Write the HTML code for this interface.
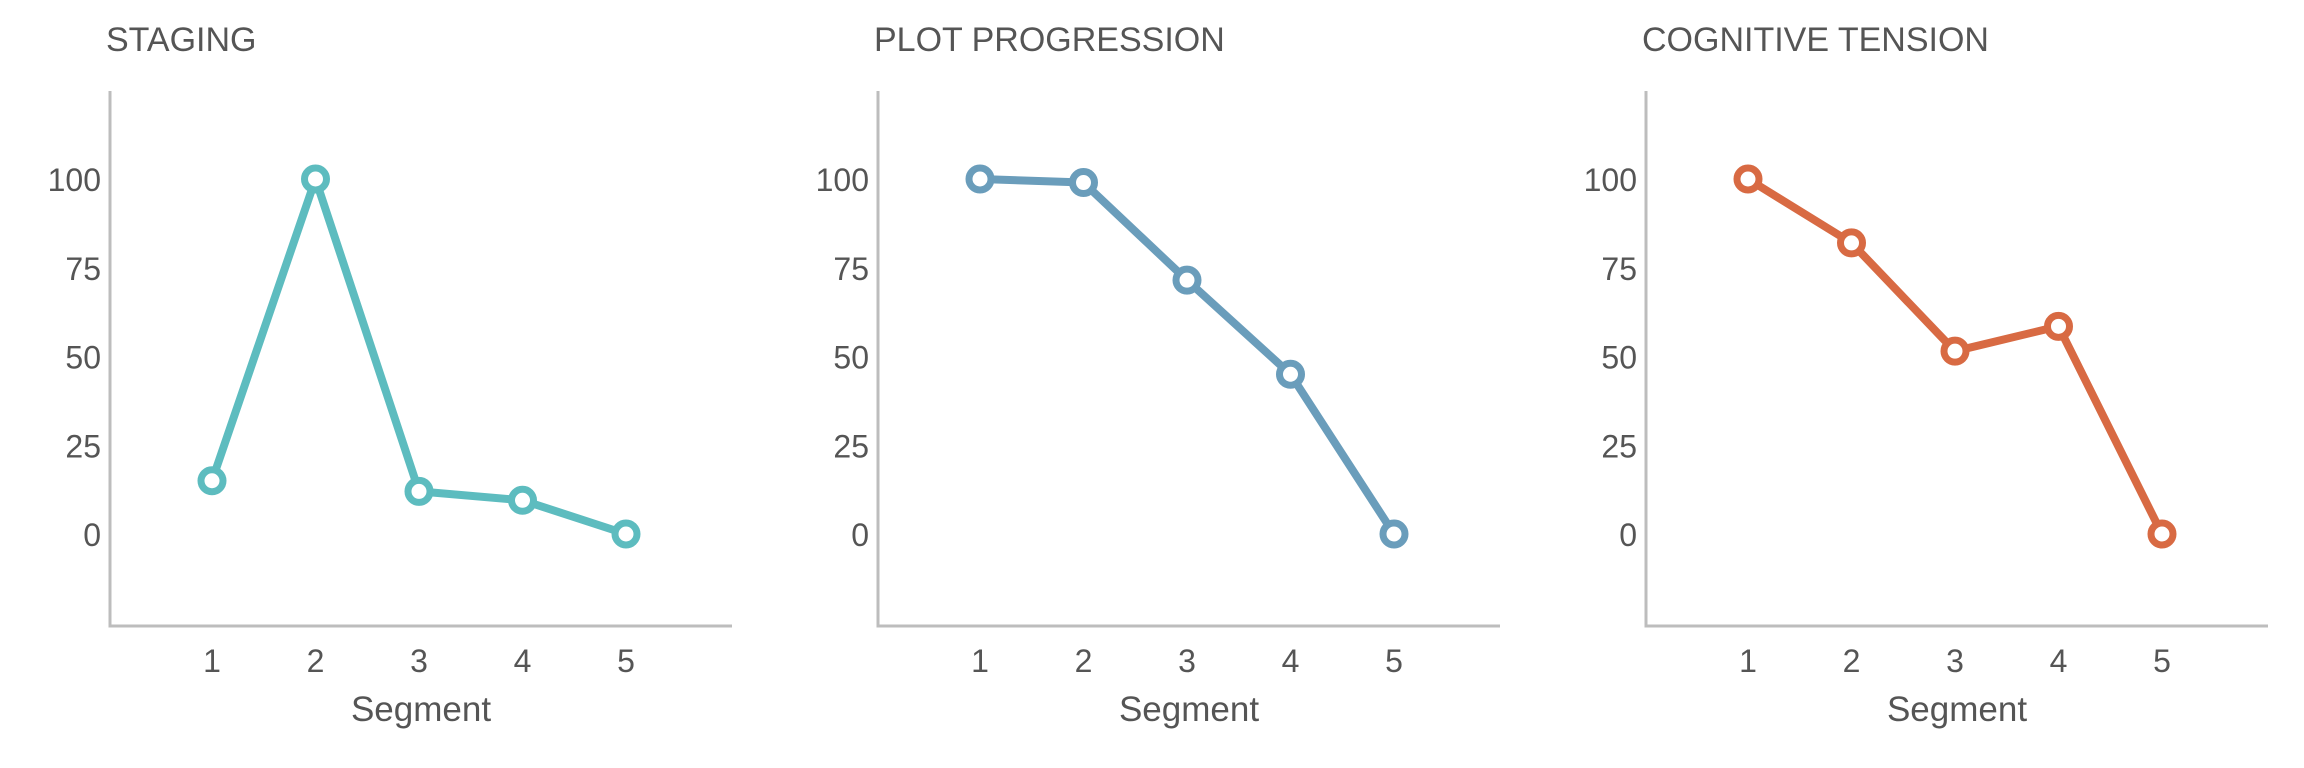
<!DOCTYPE html>
<html><head><meta charset="utf-8"><style>
html,body{margin:0;padding:0;background:#fff;}
svg{display:block;font-family:"Liberation Sans",sans-serif;}
</style></head><body>
<svg id="chart" width="2304" height="768" viewBox="0 0 2304 768" xmlns="http://www.w3.org/2000/svg"></svg>
<script>
const titles = ["STAGING", "PLOT PROGRESSION", "COGNITIVE TENSION"];
const segments = [1, 2, 3, 4, 5];
const yTicks = [0, 25, 50, 75, 100];
const stagingValues = [15, 100, 12, 9.5, 0];
const plotValues = [100, 99, 71.5, 45, 0];
const cognitiveValues = [100, 82, 51.5, 58.5, 0];
const series = [stagingValues, plotValues, cognitiveValues];
const colors = ["#5dbcbf", "#6a9dbb", "#d86a43"];

const svg = document.getElementById('chart');
const NS = "http://www.w3.org/2000/svg";
function mk(tag, attrs){const e=document.createElementNS(NS,tag);for(const k in attrs)e.setAttribute(k,attrs[k]);return e;}
const panelW = 768;
function xScale(p, v){return p*panelW + 212 + (v-1)*103.5;}
function yScale(v){return 534 - v*3.55;}

series.forEach((vals, p) => {
  const g = mk('g', {});
  
  
  svg.appendChild(g);
  const ox = p*panelW;
  const t = mk('text', {x: ox+106, y: 51, 'font-size': 34, fill: '#555'});
  
  
  t.textContent = titles[p];
  g.appendChild(t);
  const ay = mk('line', {x1: ox+110, y1: 91, x2: ox+110, y2: 627, stroke: '#bdbdbd', 'stroke-width': 3});
  
  
  g.appendChild(ay);
  const ax = mk('line', {x1: ox+108.5, y1: 626, x2: ox+732, y2: 626, stroke: '#bdbdbd', 'stroke-width': 3});
  
  
  g.appendChild(ax);
  yTicks.forEach(v => {
    const tl = mk('text', {x: ox+101, y: yScale(v)+12, 'font-size': 32, fill: '#555', 'text-anchor': 'end'});
    
    
    tl.textContent = v;
    g.appendChild(tl);
  });
  segments.forEach(s => {
    const tl = mk('text', {x: xScale(p, s), y: 672, 'font-size': 32, fill: '#555', 'text-anchor': 'middle'});
    
    
    tl.textContent = s;
    g.appendChild(tl);
  });
  const xt = mk('text', {x: ox+421, y: 721, 'font-size': 35, fill: '#555', 'text-anchor': 'middle'});
  
  
  xt.textContent = 'Segment';
  g.appendChild(xt);
  const pts = vals.map((v,i) => xScale(p, segments[i]) + ',' + yScale(v)).join(' ');
  const line = mk('polyline', {points: pts, fill: 'none', stroke: colors[p], 'stroke-width': 8, 'stroke-linejoin': 'round'});
  
  
  g.appendChild(line);
  vals.forEach((v,i) => {
    const c = mk('circle', {cx: xScale(p, segments[i]), cy: yScale(v), r: 11, fill: '#fff', stroke: colors[p], 'stroke-width': 7});
    
    
    g.appendChild(c);
  });
});
</script>
</body></html>
